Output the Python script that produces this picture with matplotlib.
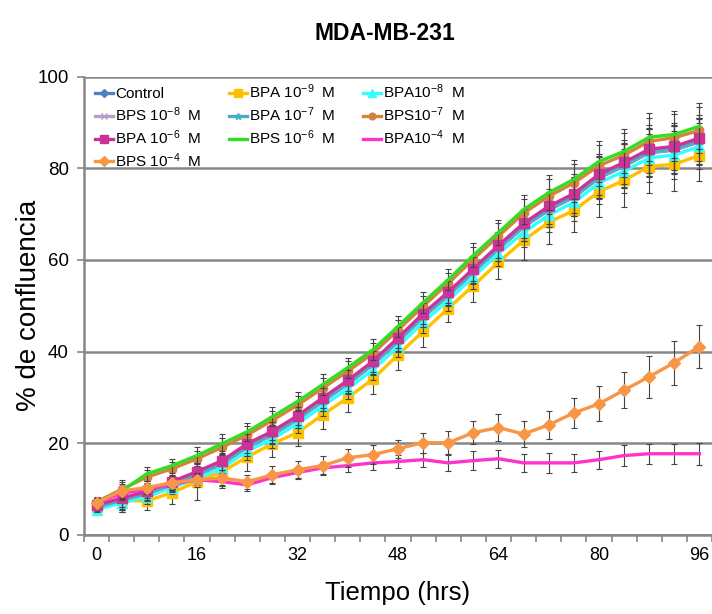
import matplotlib
matplotlib.use("Agg")
import matplotlib.pyplot as plt

plt.rcParams['font.family'] = ['Liberation Sans', 'DejaVu Sans']
plt.rcParams['mathtext.fontset'] = 'custom'
plt.rcParams['mathtext.rm'] = 'Liberation Sans'
plt.rcParams['mathtext.it'] = 'Liberation Sans:italic'
plt.rcParams['mathtext.bf'] = 'Liberation Sans:bold'

hours = [0, 4, 8, 12, 16, 20, 24, 28, 32, 36, 40, 44, 48, 52, 56, 60, 64, 68, 72, 76, 80, 84, 88, 92, 96]

control = [6.2, 7.4, 8.8, 10.8, 13.0, 15.4, 19.1, 21.8, 25.2, 29.1, 32.9, 37.1, 42.2, 47.5, 52.2, 57.3, 62.4, 67.2, 70.9, 73.7, 77.9, 80.5, 83.4, 84.0, 85.8]
bpa_9 = [6.0, 7.5, 7.4, 9.2, 11.6, 13.8, 17.0, 19.9, 22.3, 26.2, 29.9, 34.0, 39.3, 44.4, 49.4, 54.4, 59.5, 64.3, 68.2, 70.8, 74.9, 77.4, 80.4, 80.9, 82.8]
bpa_8 = [5.5, 7.0, 8.3, 10.3, 12.3, 14.6, 18.3, 20.9, 24.3, 28.1, 31.9, 36.0, 41.1, 46.4, 51.2, 56.3, 61.4, 66.0, 69.8, 72.6, 76.8, 79.4, 82.3, 82.9, 84.8]
bps_8 = [6.1, 7.5, 8.9, 10.9, 13.1, 15.5, 19.2, 21.9, 25.3, 29.2, 33.0, 37.2, 42.3, 47.6, 52.3, 57.4, 62.5, 67.3, 71.0, 73.8, 78.0, 80.6, 83.5, 84.1, 85.9]
bpa_7 = [6.0, 7.6, 9.0, 11.0, 13.2, 15.6, 19.3, 22.0, 25.4, 29.3, 33.1, 37.3, 42.4, 47.7, 52.4, 57.5, 62.6, 67.4, 71.1, 73.9, 78.1, 80.7, 83.6, 84.2, 86.0]
bps_7 = [7.2, 9.9, 12.6, 14.4, 16.6, 19.1, 21.8, 25.0, 28.3, 32.0, 35.7, 39.6, 44.7, 49.9, 54.9, 60.2, 65.2, 70.2, 73.9, 76.8, 80.6, 82.9, 85.9, 86.7, 88.3]
bpa_6 = [6.5, 8.0, 9.5, 11.6, 13.8, 16.2, 19.9, 22.6, 26.0, 29.9, 33.7, 37.9, 43.0, 48.3, 53.0, 58.1, 63.2, 68.0, 71.7, 74.5, 78.7, 81.3, 84.2, 84.8, 86.6]
bps_6 = [7.0, 9.6, 13.3, 15.1, 17.3, 19.9, 22.5, 25.8, 29.1, 32.8, 36.5, 40.4, 45.5, 50.7, 55.7, 61.0, 66.0, 71.0, 74.7, 77.6, 81.5, 83.7, 86.8, 87.4, 89.2]
bpa_4 = [7.0, 9.0, 10.0, 11.0, 12.0, 11.6, 10.9, 12.5, 13.6, 14.6, 15.1, 15.7, 16.0, 16.4, 15.7, 16.2, 16.6, 15.7, 15.7, 15.7, 16.4, 17.3, 17.7, 17.7, 17.7]
bps_4 = [7.0, 9.6, 10.3, 11.4, 12.0, 12.4, 11.6, 13.1, 14.2, 15.1, 16.8, 17.5, 18.8, 20.1, 20.1, 22.3, 23.4, 22.0, 24.0, 26.6, 28.6, 31.6, 34.5, 37.6, 41.1]

err_main = [1.0, 2.0, 1.5, 1.5, 1.8, 2.0, 2.0, 2.0, 2.0, 2.2, 2.2, 2.3, 2.3, 2.3, 2.3, 2.6, 2.8, 3.2, 3.8, 4.2, 4.5, 4.8, 5.2, 5.2, 5.0]
err_bpa9 = [1.0, 2.5, 2.0, 2.5, 4.0, 3.0, 3.0, 3.0, 3.0, 3.0, 3.0, 3.2, 3.3, 3.3, 3.0, 3.5, 3.7, 4.2, 4.8, 4.6, 5.5, 5.8, 5.8, 5.8, 5.5]
err_bps4 = [1.0, 1.5, 1.5, 1.5, 1.5, 1.8, 1.5, 2.0, 2.0, 2.0, 2.0, 2.0, 2.0, 2.2, 2.5, 2.5, 3.0, 2.8, 3.0, 3.2, 3.8, 4.0, 4.6, 4.8, 4.7]
err_bpa4 = [1.0, 1.2, 1.2, 1.2, 1.2, 1.3, 1.3, 1.3, 1.3, 1.4, 1.4, 1.5, 1.5, 1.5, 1.8, 2.0, 2.0, 2.0, 2.2, 2.0, 2.0, 2.2, 2.2, 2.2, 2.4]

# label, values, errors, colour, marker, marker size
series = [
    ("Control", control, err_main, "#4F81BD", "D", 5),
    ("BPA $10^{-9}$  M", bpa_9, err_bpa9, "#FFC000", "s", 7),
    ("BPA$10^{-8}$  M", bpa_8, err_main, "#33FFFF", "^", 7),
    ("BPS $10^{-8}$  M", bps_8, err_main, "#B3A2C7", "x", 5),
    ("BPA $10^{-7}$  M", bpa_7, err_main, "#4BACC6", "*", 6),
    ("BPS$10^{-7}$  M", bps_7, err_main, "#D2843C", "o", 6),
    ("BPA $10^{-6}$  M", bpa_6, err_main, "#CC3399", "s", 7),
    ("BPS $10^{-6}$  M", bps_6, err_main, "#33DD22", "", 0),
    ("BPA$10^{-4}$  M", bpa_4, err_bpa4, "#FF33CC", "", 0),
    ("BPS $10^{-4}$  M", bps_4, err_bps4, "#F79646", "D", 6),
]

fig = plt.figure(figsize=(7.12, 6.14), dpi=100)
ax = fig.add_axes([0.118, 0.129, 0.882, 0.746])

handles = []
for i, (lab, vals, err, col, mk, ms) in enumerate(series):
    cont = ax.errorbar(hours, vals, yerr=err, color=col, lw=2.4, marker=mk or None,
                       ms=ms, mec=col, mfc=col, ecolor="#444444", elinewidth=0.8,
                       capsize=2, capthick=0.8, label=lab, zorder=3 + i)
    handles.append(cont[0])

ax.set_xlim(-2, 98)
ax.set_ylim(0, 100)
ax.set_xticks([0, 16, 32, 48, 64, 80, 96])
ax.set_xticks([h - 2 for h in hours] + [98], minor=True)
ax.tick_params(axis='x', which='major', length=0, labelsize=13, pad=9)
ax.tick_params(axis='x', which='minor', length=5, color="#868686", width=1.2)
ax.set_yticks([0, 20, 40, 60, 80, 100])
ax.tick_params(axis='y', length=5, color="#868686", width=1.2, labelsize=13.5, pad=6)

ax.grid(axis='y', color="#868686", lw=1.8)
ax.set_axisbelow(True)
for s in ['top', 'right']:
    ax.spines[s].set_visible(False)
for s in ['left', 'bottom']:
    ax.spines[s].set_color("#868686")
    ax.spines[s].set_linewidth(1.8)

ax.set_xlabel("Tiempo (hrs)", fontsize=18.5, labelpad=12)
ax.set_ylabel("% de confluencia", fontsize=20, labelpad=-3)
fig.text(0.54, 0.945, "MDA-MB-231", fontsize=16.5, fontweight='bold', ha='center', va='center')

# excel fills the legend row by row, matplotlib column by column
order = [0, 3, 6, 9, 1, 4, 7, 2, 5, 8]
ax.legend(handles=[handles[k] for k in order], labels=[series[k][0] for k in order],
          ncol=3, loc='upper left', bbox_to_anchor=(0.008, 1.0), frameon=False,
          fontsize=11, handlelength=1.2, handletextpad=0.1, columnspacing=1.8,
          labelspacing=0.27, borderaxespad=0.0, markerscale=0.8)

fig.savefig("out.png", dpi=100)
